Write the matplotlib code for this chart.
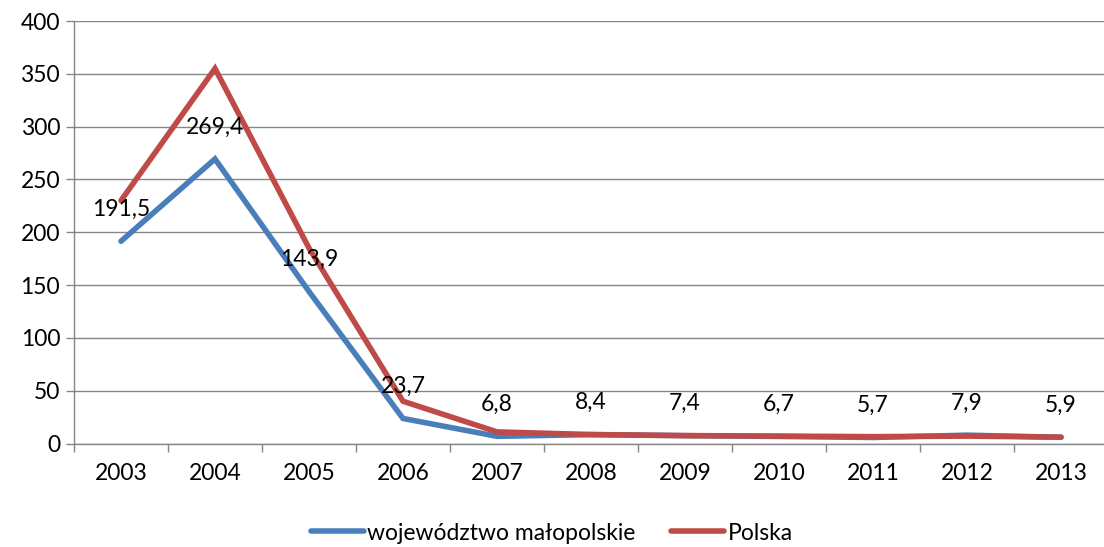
import matplotlib
matplotlib.use("Agg")
import matplotlib.pyplot as plt

plt.rcParams['font.family'] = ['Lato', 'DejaVu Sans']

years = ["2003", "2004", "2005", "2006", "2007", "2008", "2009", "2010", "2011", "2012", "2013"]
malopolskie = [191.5, 269.4, 143.9, 23.7, 6.8, 8.4, 7.4, 6.7, 5.7, 7.9, 5.9]
polska = [230, 355, 185, 40, 11, 8.5, 7.5, 7, 6.5, 7, 6]
value_labels = ["191,5", "269,4", "143,9", "23,7", "6,8", "8,4", "7,4", "6,7", "5,7", "7,9", "5,9"]

blue = "#4A7EBB"
red = "#BE4B48"
grid = "#868686"
fs = 16.5

fig = plt.figure(figsize=(11.04, 5.47), dpi=100)
ax = fig.add_axes([74 / 1104, 1 - 443.5 / 547, (1108 - 74) / 1104, (443.5 - 21) / 547])

x = list(range(len(years)))
ax.plot(x, malopolskie, color=blue, lw=4, solid_capstyle='round', solid_joinstyle='miter',
        label="województwo małopolskie", zorder=3)
ax.plot(x, polska, color=red, lw=4, solid_capstyle='round', solid_joinstyle='miter',
        label="Polska", zorder=4)

for xi, v, t in zip(x, malopolskie, value_labels):
    ax.annotate(t, (xi, v), xytext=(0, 23), textcoords='offset points',
                ha='center', va='center', fontsize=fs, color='black', zorder=5)

ax.set_xlim(-0.5, len(years) - 0.5)
ax.set_ylim(0, 400)
ax.set_yticks(range(0, 401, 50))
ax.set_xticks(x)
ax.set_xticklabels(years, fontsize=fs)
ax.set_xticks([i - 0.5 for i in range(len(years) + 1)], minor=True)
ax.tick_params(axis='x', which='major', length=0, pad=14)
ax.tick_params(axis='x', which='minor', length=6, width=1, color=grid)
ax.tick_params(axis='y', length=6, width=1, color=grid, labelsize=fs, pad=4)
ax.yaxis.grid(True, color=grid, lw=1)
ax.set_axisbelow(True)
for s in ['top', 'right']:
    ax.spines[s].set_visible(False)
for s in ['left', 'bottom']:
    ax.spines[s].set_color(grid)
    ax.spines[s].set_linewidth(1)

fig.legend(loc='center', bbox_to_anchor=(0.5, 1 - 533 / 547), ncol=2, frameon=False,
           fontsize=fs, handlelength=2.3, handletextpad=0.15, columnspacing=1.55)

fig.savefig("out.png", dpi=100)
